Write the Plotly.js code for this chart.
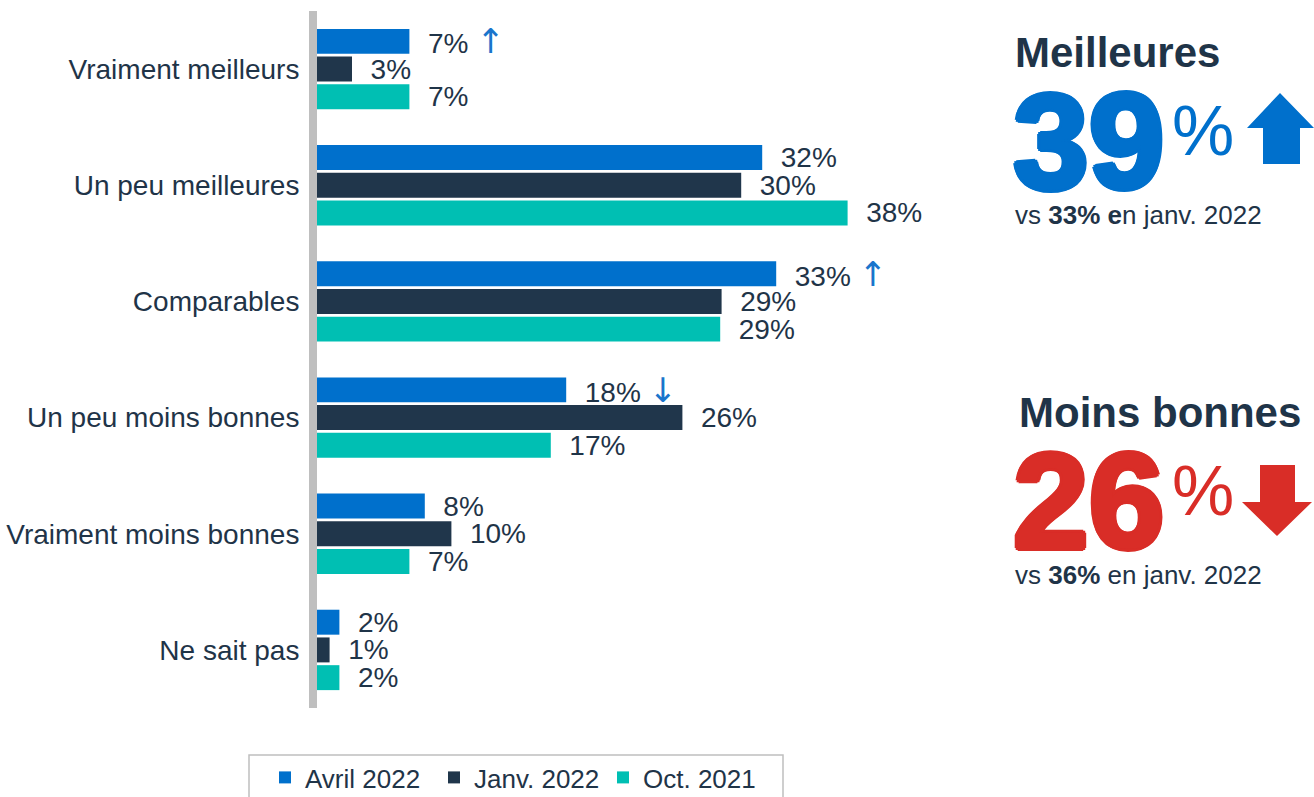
<!DOCTYPE html>
<html>
<head>
<meta charset="utf-8">
<script src="https://cdn.plot.ly/plotly-3.0.1.min.js"></script>
<style>html,body{margin:0;padding:0;background:#fff;}#chart{width:1314px;height:797px;}</style>
</head>
<body>
<div id="chart"></div>
<script>
// ---- data ----
var categories = ["Vraiment meilleurs", "Un peu meilleures", "Comparables", "Un peu moins bonnes", "Vraiment moins bonnes", "Ne sait pas"];
var seriesNames = ["Avril 2022", "Janv. 2022", "Oct. 2021"];
var avril2022 = [6.6, 31.8, 32.8, 17.8, 7.7, 1.6];
var janv2022  = [2.5, 30.3, 28.9, 26.1, 9.6, 0.9];
var oct2021   = [6.6, 37.9, 28.8, 16.7, 6.6, 1.6];
var avrilLabels = [7, 32, 33, 18, 8, 2];
var janvLabels  = [3, 30, 29, 26, 10, 1];
var octLabels   = [7, 38, 29, 17, 7, 2];
var avrilTrend  = ["up", "", "up", "down", "", ""];
var summaryTitles = ["Meilleures", "Moins bonnes"];
var summaryValues = [39, 26];
var summaryPrev   = [33, 36];

var NAVY = "#1f3448", BLUE = "#0070cc", DARK = "#20364b", TEAL = "#00bfb3", RED = "#d92d27";
var ARROW_BLUE = "#1a75cc";
var FONT = "Liberation Sans, Arial, sans-serif";

function fmt(v, trend) {
  var s = "  " + v + "%";
  var arrowStyle = "color:" + ARROW_BLUE + ";font-family:DejaVu Sans;font-size:34px";
  if (trend === "up") s += " <span style='" + arrowStyle + "'>↑</span>";
  if (trend === "down") s += " <span style='" + arrowStyle + "'>↓</span>";
  return s;
}

var L = 317, T = 11, R = 947, B = 708;
var W = R - L, H = B - T;
function px(x) { return (x - L) / W; }
function py(y) { return 1 - (y - T) / H; }

var textFont = {family: FONT, size: 28, color: NAVY};

function mk(name, vals, labels, color, trends) {
  return {
    type: "bar", orientation: "h", name: name,
    y: categories, x: vals,
    text: labels.map(function (v, i) { return fmt(v, trends ? trends[i] : ""); }),
    textposition: "outside", constraintext: "none", cliponaxis: false,
    textfont: textFont,
    marker: {color: color},
    hoverinfo: "skip"
  };
}

var data = [
  mk(seriesNames[0], avril2022, avrilLabels, BLUE, avrilTrend),
  mk(seriesNames[1], janv2022, janvLabels, DARK, null),
  mk(seriesNames[2], oct2021, octLabels, TEAL, null)
];

var ann = [];
var blocks = [
  {title: summaryTitles[0], val: summaryValues[0], color: BLUE, tx: 1013, ty: 52, vy: 141, sub: 215,
   subText: "vs <b>" + summaryPrev[0] + "% e</b>n janv. 2022"},
  {title: summaryTitles[1], val: summaryValues[1], color: RED, tx: 1017, ty: 412, vy: 501, sub: 575,
   subText: "vs <b>" + summaryPrev[1] + "%</b> en janv. 2022"}
];
blocks.forEach(function (b) {
  ann.push({xref: "paper", yref: "paper", x: px(b.tx), y: py(b.ty), xanchor: "left", yanchor: "middle",
    text: "<b>" + b.title + "</b>", showarrow: false,
    font: {family: FONT, size: 42, color: NAVY}});
  var sh = [];
  [[3,0],[-3,0],[0,3],[0,-3],[2,2],[-2,2],[2,-2],[-2,-2]].forEach(function (o) {
    sh.push(o[0] + "px " + o[1] + "px 0 " + b.color);
  });
  ann.push({xref: "paper", yref: "paper", x: px(1011), y: py(b.vy), xanchor: "left", yanchor: "middle",
    text: "<b>" + b.val + "</b>", showarrow: false, height: 118, valign: "middle",
    font: {family: FONT, size: 136, color: b.color, weight: 900, shadow: sh.join(", ")}});
  ann.push({xref: "paper", yref: "paper", x: px(1170), y: py(b.vy - 10), xanchor: "left", yanchor: "middle",
    text: "%", showarrow: false, height: 60, valign: "middle",
    font: {family: FONT, size: 70, color: b.color}});
  ann.push({xref: "paper", yref: "paper", x: px(1013), y: py(b.sub), xanchor: "left", yanchor: "middle",
    text: b.subText, showarrow: false,
    font: {family: FONT, size: 26, color: NAVY}});
});

function pathPx(pts) {
  return "M" + pts.map(function (p) { return px(p[0]) + "," + py(p[1]); }).join("L") + "Z";
}
var shapes = [
  {type: "path", xref: "paper", yref: "paper", fillcolor: BLUE, line: {width: 0},
   path: pathPx([[1280, 93], [1314, 128], [1300, 128], [1300, 164], [1263, 164], [1263, 128], [1247, 128]])},
  {type: "path", xref: "paper", yref: "paper", fillcolor: RED, line: {width: 0},
   path: pathPx([[1260, 465], [1295, 465], [1295, 502], [1312, 502], [1277, 536], [1242, 502], [1260, 502]])},
  {type: "rect", xref: "paper", yref: "paper", x0: px(249), x1: px(783), y0: py(755), y1: py(805),
   line: {color: "#bfbfbf", width: 1.5}, fillcolor: "rgba(0,0,0,0)"}
];

var layout = {
  width: 1314, height: 797,
  margin: {l: L, r: 1314 - R, t: T, b: 797 - B, pad: 0},
  paper_bgcolor: "#ffffff", plot_bgcolor: "#ffffff",
  barmode: "group", bargap: 0.284, bargroupgap: 0.1,
  showlegend: true,
  legend: {orientation: "h", xref: "container", yref: "container", x: 265 / 1314, xanchor: "left",
    y: 1 - 754 / 797, yanchor: "top", borderwidth: 0, bgcolor: "rgba(0,0,0,0)",
    entrywidth: 124, entrywidthmode: "pixels",
    font: {family: FONT, size: 26, color: NAVY}, traceorder: "normal"},
  xaxis: {range: [0, 45], showgrid: false, zeroline: false, showline: false, showticklabels: false, fixedrange: true},
  yaxis: {autorange: "reversed", showgrid: false, zeroline: false, showline: true, linecolor: "#bfbfbf", linewidth: 8,
    ticks: "", ticklabelstandoff: 4,
    tickfont: {family: FONT, size: 28, color: NAVY}},
  annotations: ann,
  shapes: shapes
};

Plotly.newPlot("chart", data, layout, {displayModeBar: false, staticPlot: true});
</script>
</body>
</html>
